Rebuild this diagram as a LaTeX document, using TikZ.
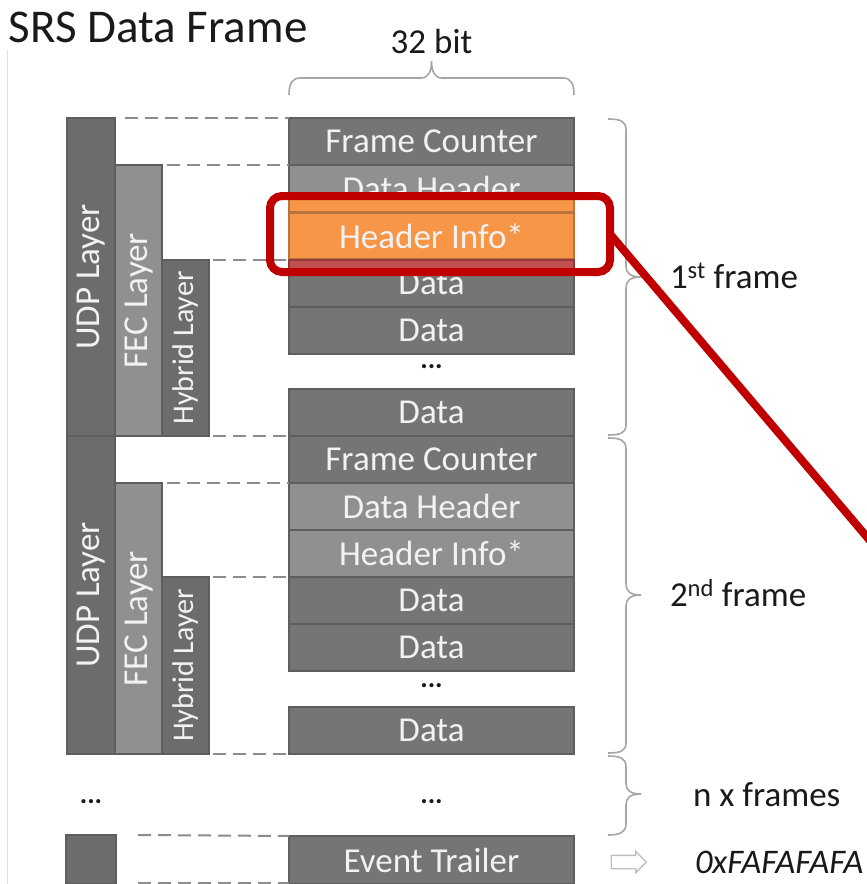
\documentclass[tikz,border=0pt]{standalone}
\usepackage{fontspec}
\setmainfont{Carlito}
\usetikzlibrary{shapes.arrows}
\definecolor{dk}{HTML}{757575}
\definecolor{lt}{HTML}{909090}
\definecolor{bd}{HTML}{5E5E5E}
\definecolor{org}{HTML}{F79646}
\definecolor{orgbd}{HTML}{B8743C}
\definecolor{redb}{HTML}{C0504D}
\definecolor{redbd}{HTML}{943A38}
\definecolor{hlred}{HTML}{C00000}
\definecolor{brc}{HTML}{A6A6A6}
\definecolor{dashg}{HTML}{8C8C8C}
\definecolor{arrg}{HTML}{BFBFBF}
\definecolor{txt}{HTML}{1A1A1A}
\begin{document}
\begin{tikzpicture}[x=1pt,y=-1pt,
  every node/.style={inner sep=0pt, outer sep=0pt},
  cell/.style={draw=bd, line width=2.5pt, minimum width=285pt, minimum height=47pt,
    text=white!95!black, font=\fontsize{35}{40}\selectfont},
  dcell/.style={cell, fill=dk},
  lcell/.style={cell, fill=lt},
  ocell/.style={cell, fill=org, draw=orgbd},
  layer/.style={draw=bd, line width=2.5pt},
  dlayer/.style={layer, fill=dk!92!black},
  llayer/.style={layer, fill=lt},
  laytext/.style={rotate=90, text=white!95!black, font=\fontsize{35}{40}\selectfont},
  hybtext/.style={rotate=90, text=white!95!black, font=\fontsize{30}{34}\selectfont},
  dashline/.style={draw=dashg, line width=2pt, dash pattern=on 13pt off 7pt},
  bracestyle/.style={draw=brc, line width=1.6pt},
  lbl/.style={text=txt, font=\fontsize{35}{40}\selectfont},
  dotstyle/.style={text=txt, font=\fontsize{28}{30}\selectfont\bfseries}
]
\useasboundingbox (0,0) rectangle (867,884);
\clip (0,0) rectangle (867,884);
\fill[white] (0,0) rectangle (867,884);

% faint slide edge
\draw[black!12, line width=1pt] (7,50) -- (7,884);

% title and width label
\node[anchor=base west, text=txt, font=\fontsize{47}{52}\selectfont] (title) at (9,42) {SRS Data Frame};
\node[anchor=base, lbl] (bits) at (431.5,53) {32 bit};
\draw[bracestyle] (289,95) .. controls (289,84) and (292,78) .. (300,78) -- (421,78)
  .. controls (428,78) and (431.5,72) .. (431.5,61)
  .. controls (431.5,72) and (435,78) .. (442,78) -- (563,78)
  .. controls (571,78) and (574,84) .. (574,95);

% layer columns, frame 1
\node[dlayer, minimum width=48pt, minimum height=318pt] (udp1) at (91,277) {};
\node[llayer, minimum width=47pt, minimum height=271pt] (fec1) at (138.5,300.5) {};
\node[dlayer, minimum width=47pt, minimum height=176pt] (hyb1) at (185.5,348) {};
\node[laytext] (udp1t) at (udp1.center) {UDP Layer};
\node[laytext] (fec1t) at (fec1.center) {FEC Layer};
\node[hybtext] (hyb1t) at (hyb1.center) {Hybrid Layer};

% layer columns, frame 2
\node[dlayer, minimum width=48pt, minimum height=318pt] (udp2) at (91,595) {};
\node[llayer, minimum width=47pt, minimum height=271pt] (fec2) at (138.5,618.5) {};
\node[dlayer, minimum width=47pt, minimum height=177pt] (hyb2) at (185.5,665.5) {};
\node[laytext] (udp2t) at (udp2.center) {UDP Layer};
\node[laytext] (fec2t) at (fec2.center) {FEC Layer};
\node[hybtext] (hyb2t) at (hyb2.center) {Hybrid Layer};

% trailer stub
\node[dlayer, minimum width=50pt, minimum height=49pt] (small) at (91,859.5) {};

% frame 1 rows
\node[dcell] (fc1) at (431.5,141.5) {Frame Counter};
\node[lcell] (dh1) at (431.5,188.5) {Data Header};
\node[ocell] (hi1) at (431.5,236) {Header Info*};
\node[dcell] (d1a) at (431.5,283.5) {Data};
\node[dcell] (d1b) at (431.5,330.5) {Data};
\node[dotstyle] (dots1) at (431.5,367) {...};
\node[dcell] (d1c) at (431.5,412.5) {Data};

% frame 2 rows
\node[dcell] (fc2) at (431.5,459.5) {Frame Counter};
\node[lcell] (dh2) at (431.5,506.5) {Data Header};
\node[lcell] (hi2) at (431.5,553.5) {Header Info*};
\node[dcell] (d2a) at (431.5,600.5) {Data};
\node[dcell] (d2b) at (431.5,647.5) {Data};
\node[dotstyle] (dots2) at (431.5,686) {...};
\node[dcell] (d2c) at (431.5,730.5) {Data};

% n frames
\node[dotstyle] (dots3) at (431.5,802) {...};
\node[dotstyle] (dots4) at (91,802) {...};

% event trailer
\node[dcell, minimum height=48pt] (et) at (431.5,860) {Event Trailer};

% orange / red overlay bands
\path[fill=org, draw=orgbd, line width=2.5pt] (dh1.west |- 0,198) rectangle (dh1.south east);
\path[fill=redb, draw=redbd, line width=2pt] (d1a.north west) rectangle ([yshift=-9pt]d1a.north east);

% dashed guide lines
\draw[dashline] ([xshift=10pt]udp1.north east) -- (fc1.north west);
\draw[dashline] ([xshift=5pt]fec1.north east) -- (dh1.north west);
\draw[dashline] ([xshift=4pt]hyb1.north east) -- (d1a.north west);
\draw[dashline] ([xshift=4pt]hyb1.south east) -- (d1c.south west);
\draw[dashline] ([xshift=5pt]fec2.north east) -- (dh2.north west);
\draw[dashline] ([xshift=4pt]hyb2.north east) -- (d2a.north west);
\draw[dashline] ([xshift=4pt]hyb2.south east) -- (d2c.south west);
\draw[dashline] ([xshift=22pt]small.north east) -- (et.north west);
\draw[dashline] ([xshift=22pt,yshift=1pt]small.south east) -- ([yshift=1pt]et.south west);

% right braces
\draw[bracestyle] (608,119) .. controls (620,119) and (626,121) .. (626,130) -- (626,266)
  .. controls (626,273) and (630,277) .. (641,277)
  .. controls (630,277) and (626,281) .. (626,288) -- (626,425)
  .. controls (626,433) and (620,435) .. (608,435);
\draw[bracestyle] (608,438) .. controls (620,438) and (626,440) .. (626,449) -- (626,584)
  .. controls (626,591) and (630,595) .. (641,595)
  .. controls (630,595) and (626,599) .. (626,606) -- (626,743)
  .. controls (626,751) and (620,753) .. (608,753);
\draw[bracestyle] (608,756) .. controls (620,756) and (626,758) .. (626,767) -- (626,783)
  .. controls (626,790) and (630,794) .. (641,794)
  .. controls (630,794) and (626,798) .. (626,805) -- (626,824)
  .. controls (626,832) and (620,835) .. (608,835);

% right labels
\node[lbl, anchor=base west] (f1) at (670,288) {1\textsuperscript{st} frame};
\node[lbl, anchor=base west] (f2) at (670,606) {2\textsuperscript{nd} frame};
\node[lbl, anchor=base west] (nf) at (693,806) {n x frames};
\node[single arrow, draw=arrg, fill=white, line width=1.3pt, minimum height=35pt,
  inner sep=6pt, single arrow head extend=4pt] (arr) at (625.5,862) {};
\node[lbl, anchor=base west, font=\fontsize{34.5}{38}\selectfont\itshape] (hex) at (695,873) {0xFAFAFAFA};

% highlight
\node[draw=hlred, line width=8pt, rounded corners=12pt, minimum width=340pt,
  minimum height=76pt] (hl) at (440,234) {};
\coordinate (tgt) at (900,576);
\draw[hlred, line width=8pt] (hl.east) -- (tgt);
\end{tikzpicture}
\end{document}
